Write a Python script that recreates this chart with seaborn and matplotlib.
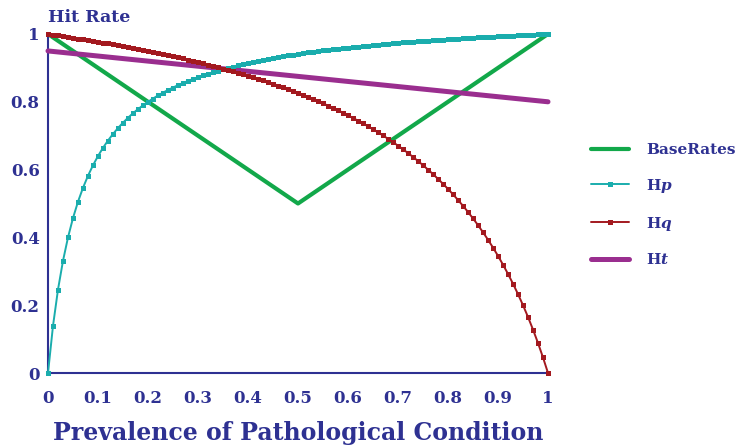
import matplotlib
matplotlib.use("Agg")
import matplotlib.pyplot as plt
import seaborn as sns
import numpy as np
import pandas as pd

# ---- data ----
prevalence = [k / 100 for k in range(101)]

base_x = [0.0, 0.5, 1.0]
base_rates = [1.0, 0.5, 1.0]

hp_values = [
    0.0, 0.1391, 0.2462, 0.3310, 0.4000, 0.4571, 0.5053, 0.5463, 0.5818, 0.6128,
    0.6400, 0.6642, 0.6857, 0.7051, 0.7226, 0.7385, 0.7529, 0.7662, 0.7784, 0.7896,
    0.8000, 0.8096, 0.8186, 0.8270, 0.8348, 0.8421, 0.8490, 0.8554, 0.8615, 0.8673,
    0.8727, 0.8779, 0.8828, 0.8874, 0.8918, 0.8960, 0.9000, 0.9038, 0.9075, 0.9109,
    0.9143, 0.9175, 0.9205, 0.9235, 0.9263, 0.9290, 0.9316, 0.9342, 0.9366, 0.9389,
    0.9412, 0.9434, 0.9455, 0.9475, 0.9495, 0.9514, 0.9532, 0.9550, 0.9567, 0.9584,
    0.9600, 0.9616, 0.9631, 0.9646, 0.9660, 0.9674, 0.9688, 0.9701, 0.9714, 0.9727,
    0.9739, 0.9751, 0.9763, 0.9774, 0.9785, 0.9796, 0.9806, 0.9817, 0.9827, 0.9837,
    0.9846, 0.9856, 0.9865, 0.9874, 0.9882, 0.9891, 0.9899, 0.9907, 0.9915, 0.9923,
    0.9931, 0.9939, 0.9946, 0.9953, 0.9960, 0.9967, 0.9974, 0.9981, 0.9987, 0.9994,
    1.0,
]

hq_values = [
    1.0, 0.9979, 0.9957, 0.9935, 0.9913, 0.9890, 0.9867, 0.9844, 0.9820, 0.9796,
    0.9771, 0.9746, 0.9721, 0.9695, 0.9669, 0.9642, 0.9614, 0.9587, 0.9558, 0.9529,
    0.9500, 0.9470, 0.9439, 0.9408, 0.9377, 0.9344, 0.9311, 0.9278, 0.9243, 0.9208,
    0.9172, 0.9136, 0.9099, 0.9060, 0.9022, 0.8982, 0.8941, 0.8900, 0.8857, 0.8814,
    0.8769, 0.8724, 0.8677, 0.8629, 0.8581, 0.8531, 0.8479, 0.8427, 0.8373, 0.8318,
    0.8261, 0.8203, 0.8143, 0.8081, 0.8018, 0.7953, 0.7887, 0.7818, 0.7748, 0.7675,
    0.7600, 0.7523, 0.7443, 0.7361, 0.7277, 0.7189, 0.7099, 0.7006, 0.6909, 0.6809,
    0.6706, 0.6599, 0.6488, 0.6373, 0.6253, 0.6129, 0.6000, 0.5866, 0.5726, 0.5580,
    0.5429, 0.5270, 0.5104, 0.4931, 0.4750, 0.4560, 0.4361, 0.4151, 0.3931, 0.3699,
    0.3455, 0.3196, 0.2923, 0.2634, 0.2327, 0.2000, 0.1652, 0.1281, 0.0884, 0.0458,
    0.0,
]

ht_x = [0.0, 1.0]
ht_values = [0.95, 0.80]

x_ticks = [0, 0.1, 0.2, 0.3, 0.4, 0.5, 0.6, 0.7, 0.8, 0.9, 1]
x_tick_labels = ["0", "0.1", "0.2", "0.3", "0.4", "0.5", "0.6", "0.7", "0.8", "0.9", "1"]
y_ticks = [0, 0.2, 0.4, 0.6, 0.8, 1]
y_tick_labels = ["0", "0.2", "0.4", "0.6", "0.8", "1"]

# ---- style ----
sns.set_theme(style="white")
plt.rcParams['font.family'] = ['DejaVu Serif']
plt.rcParams['mathtext.fontset'] = 'custom'
plt.rcParams['mathtext.it'] = 'DejaVu Serif:italic:bold'
plt.rcParams['mathtext.rm'] = 'DejaVu Serif:bold'

NAVY = "#2e3192"
GREEN = "#12a84a"
TEAL = "#1aadad"
RED = "#a3191f"
PURPLE = "#9a2e8f"

fig = plt.figure(figsize=(7.43, 4.45), dpi=100)
ax = fig.add_axes([48 / 743, 1 - 373 / 445, 500 / 743, (373 - 34) / 445])

sns.lineplot(x=base_x, y=base_rates, ax=ax, color=GREEN, linewidth=3.0,
             label="BaseRates", clip_on=False, zorder=3)
sns.lineplot(x=prevalence, y=hp_values, ax=ax, color=TEAL, linewidth=1.4,
             marker="s", markersize=3.6, markeredgewidth=0, label="H$p$",
             clip_on=False, zorder=4)
sns.lineplot(x=prevalence, y=hq_values, ax=ax, color=RED, linewidth=1.4,
             marker="s", markersize=3.6, markeredgewidth=0, label="H$q$",
             clip_on=False, zorder=4)
sns.lineplot(x=ht_x, y=ht_values, ax=ax, color=PURPLE, linewidth=3.6,
             label="H$t$", clip_on=False, zorder=3)

ax.set_xlim(0, 1)
ax.set_ylim(0, 1)
ax.set_xticks(x_ticks)
ax.set_xticklabels(x_tick_labels)
ax.set_yticks(y_ticks)
ax.set_yticklabels(y_tick_labels)

for s in ["top", "right"]:
    ax.spines[s].set_visible(False)
for s in ["left", "bottom"]:
    ax.spines[s].set_color(NAVY)
    ax.spines[s].set_linewidth(1.5)

ax.tick_params(axis="both", direction="in", length=7, width=1.3, colors=NAVY,
               labelsize=12, pad=6)
for lab in ax.get_xticklabels() + ax.get_yticklabels():
    lab.set_fontweight("bold")
    lab.set_color(NAVY)
ax.tick_params(axis="x", pad=12)

ax.set_xlabel("Prevalence of Pathological Condition", fontsize=17,
              fontweight="bold", color=NAVY, labelpad=10)
ax.set_ylabel("")
fig.text(48 / 743, 1 - 18 / 445, "Hit Rate", fontsize=12.5, fontweight="bold",
         color=NAVY, ha="left", va="center")

leg = ax.legend(loc="center left", bbox_to_anchor=(1.065, 0.495), frameon=False,
                fontsize=11, handlelength=2.5, labelspacing=1.3,
                handletextpad=1.1, markerscale=1.0, borderpad=0.2)
for t in leg.get_texts():
    t.set_color(NAVY)
    t.set_fontweight("bold")

fig.savefig("out.png", dpi=100)
